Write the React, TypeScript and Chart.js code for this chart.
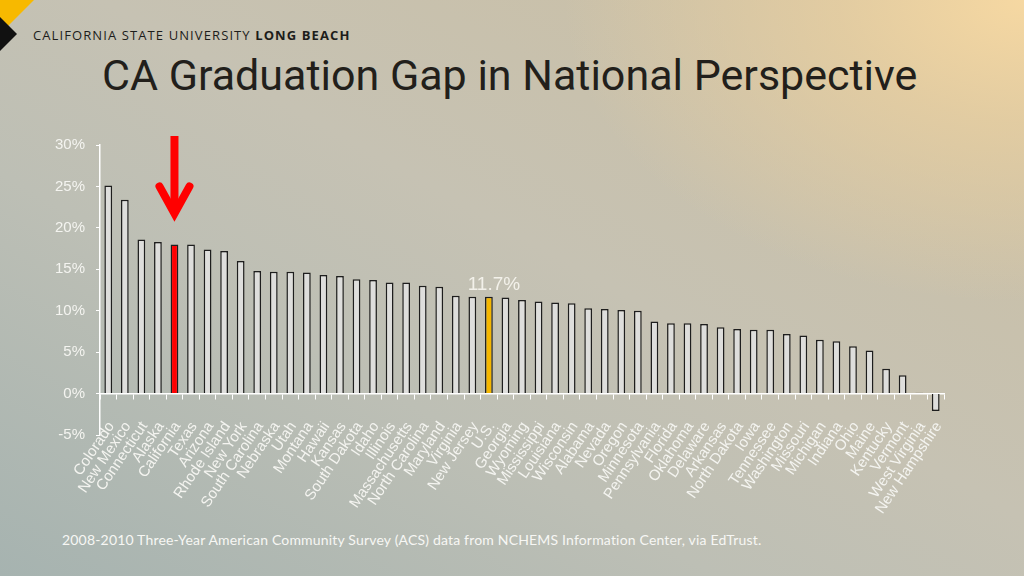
import React, { useEffect, useRef } from "react";
import { Chart, registerables } from "chart.js";

Chart.register(...registerables);

const CATEGORIES: string[] = [
  "Colorado", "New Mexico", "Connecticut", "Alaska", "California", "Texas", "Arizona",
  "Rhode Island", "New York", "South Carolina", "Nebraska", "Utah", "Montana", "Hawaii",
  "Kansas", "South Dakota", "Idaho", "Illinois", "Massachusetts", "North Carolina",
  "Maryland", "Virginia", "New Jersey", "U.S.", "Georgia", "Wyoming", "Mississippi",
  "Louisiana", "Wisconsin", "Alabama", "Nevada", "Oregon", "Minnesota", "Pennsylvania",
  "Florida", "Oklahoma", "Delaware", "Arkansas", "North Dakota", "Iowa", "Tennessee",
  "Washington", "Missouri", "Michigan", "Indiana", "Ohio", "Maine", "Kentucky", "Vermont",
  "West Virginia", "New Hampshire",
];

const GAP_VALUES: number[] = [
  25.1, 23.4, 18.6, 18.3, 18.0, 18.0, 17.4,
  17.2, 16.0, 14.8, 14.7, 14.7, 14.6, 14.3,
  14.2, 13.8, 13.7, 13.4, 13.4, 13.0,
  12.9, 11.8, 11.7, 11.7, 11.6, 11.3, 11.1,
  11.0, 10.9, 10.3, 10.2, 10.1, 10.0, 8.7,
  8.5, 8.5, 8.4, 8.0, 7.8, 7.7, 7.7,
  7.2, 7.0, 6.5, 6.3, 5.7, 5.2, 3.0, 2.2,
  0.1, -2.1,
];

const Y_MIN = -5;
const Y_MAX = 30;
const Y_STEP = 5;

const HIGHLIGHT_STATE = "California";
const NATIONAL = "U.S.";
const NATIONAL_LABEL = "11.7%";

const TITLE = "CA Graduation Gap in National Perspective";
const HEADER_LIGHT = "CALIFORNIA STATE UNIVERSITY ";
const HEADER_BOLD = "LONG BEACH";
const SOURCE = "2008-2010 Three-Year American Community Survey (ACS) data from NCHEMS Information Center, via EdTrust.";

const overlayPlugin = {
  id: "overlay",
  afterDatasetsDraw(chart: any) {
    const meta = chart.getDatasetMeta(0);
    const ctx = chart.ctx;
    const usBar = meta.data[CATEGORIES.indexOf(NATIONAL)];
    const caBar = meta.data[CATEGORIES.indexOf(HIGHLIGHT_STATE)];
    ctx.save();
    ctx.fillStyle = "#f3f1ea";
    ctx.font = "19px 'Liberation Sans', Arial, sans-serif";
    ctx.textAlign = "center";
    ctx.textBaseline = "alphabetic";
    ctx.fillText(NATIONAL_LABEL, usBar.x + 5, usBar.y - 7);
    const x = caBar.x;
    const vertex = caBar.y - 31;
    const top = chart.chartArea.top - 9;
    ctx.strokeStyle = "#ff0000";
    ctx.lineWidth = 8;
    ctx.lineCap = "butt";
    ctx.beginPath();
    ctx.moveTo(x, top);
    ctx.lineTo(x, vertex);
    ctx.stroke();
    ctx.lineCap = "round";
    ctx.lineJoin = "miter";
    ctx.miterLimit = 10;
    ctx.beginPath();
    ctx.moveTo(x - 15, vertex - 27);
    ctx.lineTo(x, vertex);
    ctx.lineTo(x + 15, vertex - 27);
    ctx.stroke();
    ctx.restore();
  },
};

export default function App() {
  const canvasRef = useRef<HTMLCanvasElement | null>(null);

  useEffect(() => {
    if (!canvasRef.current) return;
    const bg = CATEGORIES.map((c) =>
      c === HIGHLIGHT_STATE ? "#ff0000" : c === NATIONAL ? "#f5b700" : "#dededc"
    );
    const chart = new Chart(canvasRef.current, {
      type: "bar",
      data: {
        labels: CATEGORIES,
        datasets: [
          {
            data: GAP_VALUES,
            backgroundColor: bg,
            borderColor: "#1e1e1e",
            borderWidth: 1.5,
            barPercentage: 0.47,
            categoryPercentage: 1,
          },
        ],
      },
      options: {
        animation: false,
        responsive: false,
        maintainAspectRatio: false,
        devicePixelRatio: 1,
        layout: { padding: { top: 9, right: 56, left: 0, bottom: 80 } },
        plugins: { legend: { display: false }, tooltip: { enabled: false } },
        scales: {
          x: {
            position: { y: 0 } as any,
            grid: {
              display: true,
              drawOnChartArea: false,
              drawTicks: true,
              tickLength: 5,
              color: "#ffffff",
              offset: true,
            },
            border: { color: "#ffffff", width: 1.5 },
            ticks: {
              autoSkip: false,
              minRotation: 56,
              maxRotation: 56,
              padding: 20,
              labelOffset: 3,
              color: "#f4f4f0",
              font: { family: "'Liberation Sans', Arial, sans-serif", size: 15 },
            },
          },
          y: {
            min: Y_MIN,
            max: Y_MAX,
            afterFit: (s: any) => {
              s.width = 100;
            },
            grid: {
              display: true,
              drawOnChartArea: false,
              drawTicks: true,
              tickLength: 4,
              color: "#ffffff",
            },
            border: { color: "#ffffff", width: 1.5 },
            ticks: {
              stepSize: Y_STEP,
              padding: 11,
              color: "#f4f4f0",
              font: { family: "'Liberation Sans', Arial, sans-serif", size: 15 },
              callback: (v: any) => `${v}%`,
            },
          },
        },
      },
      plugins: [overlayPlugin],
    });
    return () => chart.destroy();
  }, []);

  return (
    <div
      style={{
        position: "fixed",
        left: 0,
        top: 0,
        width: 1024,
        height: 576,
        overflow: "hidden",
        background:
          "radial-gradient(ellipse 60% 70% at 100% 0%, rgba(246,216,162,1) 0%, rgba(234,208,160,0.75) 30%, rgba(210,198,170,0) 75%), linear-gradient(to top right, #a6b3b0 0%, #bdbfb5 35%, #c6c2b3 55%, #ccbfa2 100%)",
      }}
    >
      <svg width={40} height={60} style={{ position: "absolute", left: 0, top: 0 }}>
        <polygon points="0,0 34,0 0,34" fill="#f7b900" />
        <polygon points="0,17 17,34 0,51" fill="#111111" />
      </svg>
      <div
        style={{
          position: "absolute",
          left: 33,
          top: 26,
          fontFamily: "'Open Sans', sans-serif",
          fontSize: 13,
          letterSpacing: 1.1,
          color: "#1d1d1b",
          whiteSpace: "nowrap",
          lineHeight: "18px",
        }}
      >
        {HEADER_LIGHT}
        <span style={{ fontWeight: 700 }}>{HEADER_BOLD}</span>
      </div>
      <div
        style={{
          position: "absolute",
          left: 102,
          top: 49,
          fontFamily: "Roboto, sans-serif",
          fontSize: 43,
          color: "#221f1b",
          whiteSpace: "nowrap",
          lineHeight: "52px",
        }}
      >
        {TITLE}
      </div>
      <div style={{ position: "absolute", left: 0, top: 125, width: 1000, height: 390 }}>
        <canvas ref={canvasRef} width={1000} height={390} style={{ width: 1000, height: 390 }} />
      </div>
      <div
        style={{
          position: "absolute",
          left: 62,
          top: 531,
          fontFamily: "Lato, sans-serif",
          fontSize: 14,
          letterSpacing: 0.18,
          color: "#f7f7f4",
          whiteSpace: "nowrap",
          lineHeight: "18px",
        }}
      >
        {SOURCE}
      </div>
    </div>
  );
}
